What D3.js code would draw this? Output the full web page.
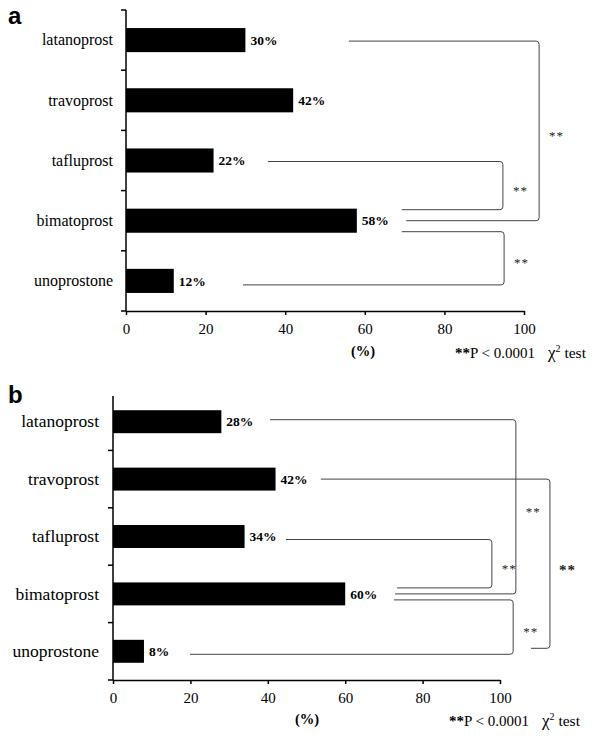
<!DOCTYPE html>
<html>
<head>
<meta charset="utf-8">
<script src="https://cdn.jsdelivr.net/npm/d3@7"></script>
<style>
  body { margin: 0; background: #fff; }
  text { font-family: "Liberation Serif", "Times New Roman", serif; fill: #000; }
</style>
</head>
<body>
<svg id="chart" width="595" height="736"></svg>
<script>
// categories and values (percent)
var drugs = ["latanoprost", "travoprost", "tafluprost", "bimatoprost", "unoprostone"];
var percentA = [30, 42, 22, 58, 12];
var percentB = [28, 42, 34, 60, 8];
var xTicks = [0, 20, 40, 60, 80, 100];
var pairsA = [["latanoprost", "bimatoprost"], ["tafluprost", "bimatoprost"], ["bimatoprost", "unoprostone"]];
var pairsB = [["latanoprost", "bimatoprost"], ["travoprost", "unoprostone"], ["tafluprost", "bimatoprost"], ["bimatoprost", "unoprostone"]];
var sigLabel = "**";

var svg = d3.select("#chart");

// bracket layout: x values in % units, y offsets in px from the band centres
var layoutA = [
    { x1: 56, x2: 70.4, xv: 103.8, dy1: 1, dy2: 0, big: false },
    { x1: 35.7, x2: 69.3, xv: 94.7, dy1: 1, dy2: -11, big: false },
    { x1: 69.3, x2: 29.4, xv: 95, dy1: 11, dy2: 4, big: false }
];
var layoutB = [
    { x1: 40.6, x2: 72.9, xv: 104.1, dy1: -2, dy2: 0, big: false },
    { x1: 53.7, x2: 108, xv: 112.9, dy1: 0, dy2: -3, big: true },
    { x1: 44.7, x2: 73.4, xv: 97.9, dy1: 3, dy2: -6, big: false },
    { x1: 72.6, x2: 19.9, xv: 103.4, dy1: 6, dy2: 3, big: false }
];

function draw_panel(opt) {
    var x = d3.scaleLinear().domain([0, 100]).range([opt.left, opt.right]);
    var y = d3.scaleBand().domain(drugs).range([opt.top, opt.bottom]).padding(0);
    var g = svg.append("g");
    var barH = y.bandwidth() * 0.4;

    // panel letter
    g.append("text")
        .attr("x", 8).attr("y", opt.letterY)
        .style("font-family", "'Liberation Sans', Arial, sans-serif")
        .style("font-weight", "bold")
        .style("font-size", "24px")
        .text(opt.letter);

    // bars
    g.selectAll("rect.bar")
        .data(opt.values)
        .enter().append("rect")
        .attr("class", "bar")
        .attr("x", x(0))
        .attr("y", function (d, i) { return y(drugs[i]) + y.bandwidth() / 2 - barH / 2; })
        .attr("width", function (d) { return x(d) - x(0); })
        .attr("height", barH)
        .attr("fill", "#000");

    // value labels
    g.selectAll("text.val")
        .data(opt.values)
        .enter().append("text")
        .attr("class", "val")
        .attr("x", function (d) { return x(d) + 5; })
        .attr("y", function (d, i) { return y(drugs[i]) + y.bandwidth() / 2; })
        .attr("dy", "0.35em")
        .style("font-size", "13.5px")
        .style("font-weight", "bold")
        .text(function (d) { return d + "%"; });

    // category labels
    g.selectAll("text.cat")
        .data(drugs)
        .enter().append("text")
        .attr("class", "cat")
        .attr("x", opt.labelX)
        .attr("y", function (d) { return y(d) + y.bandwidth() / 2; })
        .attr("dy", "0.33em")
        .attr("text-anchor", "end")
        .style("font-size", opt.catSize)
        .text(function (d) { return d; });

    // y axis with ticks on band edges
    g.append("line")
        .attr("x1", x(0)).attr("x2", x(0))
        .attr("y1", opt.axisTop).attr("y2", opt.bottom)
        .attr("stroke", "#000").attr("stroke-width", 1.5);
    var edges = drugs.map(function (d) { return y(d) + y.bandwidth(); });
    if (opt.topTick) edges.unshift(opt.top);
    g.selectAll("line.ytick")
        .data(edges)
        .enter().append("line")
        .attr("class", "ytick")
        .attr("x1", x(0) - 5).attr("x2", x(0))
        .attr("y1", function (d) { return d; }).attr("y2", function (d) { return d; })
        .attr("stroke", "#000").attr("stroke-width", 1.5);

    // x axis
    var ax = g.append("g")
        .attr("transform", "translate(0," + opt.bottom + ")")
        .call(d3.axisBottom(x).tickValues(xTicks).tickSize(4).tickPadding(8).tickSizeOuter(0));
    ax.select(".domain").attr("stroke", "#000").attr("stroke-width", 1.5);
    ax.selectAll(".tick line").attr("stroke", "#000").attr("stroke-width", 1.5);
    ax.selectAll(".tick text")
        .style("font-family", "'Liberation Serif', 'Times New Roman', serif")
        .style("font-size", "15px")
        .attr("fill", "#000");

    g.append("text")
        .attr("x", opt.unitX).attr("y", opt.noteY - 2)
        .attr("text-anchor", "middle")
        .style("font-size", "14.5px")
        .style("font-weight", "bold")
        .text("(%)");

    var note = g.append("text")
        .attr("x", opt.noteX).attr("y", opt.noteY)
        .style("font-size", "15px");
    note.append("tspan").style("font-weight", "bold").text("**");
    note.append("tspan").text("P < 0.0001");
    var chi = g.append("text")
        .attr("x", opt.noteX + 93).attr("y", opt.noteY)
        .style("font-size", "15.5px");
    chi.append("tspan").style("font-size", "17px").text("χ");
    chi.append("tspan").attr("dy", -6).style("font-size", "10px").text("2");
    chi.append("tspan").attr("dy", 6).text(" test");

    // significance brackets
    var cy = function (name) { return y(name) + y.bandwidth() / 2; };
    opt.pairs.forEach(function (p, i) {
        var L = opt.layout[i];
        var ya = cy(p[0]) + L.dy1, yb = cy(p[1]) + L.dy2, xv = x(L.xv), r = 3;
        var path = d3.path();
        path.moveTo(x(L.x1), ya);
        path.lineTo(xv - r, ya);
        path.quadraticCurveTo(xv, ya, xv, ya + r);
        path.lineTo(xv, yb - r);
        path.quadraticCurveTo(xv, yb, xv - r, yb);
        path.lineTo(x(L.x2), yb);
        g.append("path")
            .attr("d", path.toString())
            .attr("fill", "none")
            .attr("stroke", "#444")
            .attr("stroke-width", 1);
        g.append("text")
            .attr("x", xv + (L.big ? 9 : 10))
            .attr("y", (ya + yb) / 2)
            .attr("dy", L.big ? "0.75em" : "0.7em")
            .style("font-size", L.big ? "15px" : "13px")
            .style("font-weight", L.big ? "bold" : "normal")
            .style("letter-spacing", "1px")
            .style("fill", "#222")
            .text(sigLabel);
    });
}

draw_panel({
    letter: "a", letterY: 24, values: percentA, pairs: pairsA, layout: layoutA,
    left: 126, right: 524, top: 10, axisTop: 10, bottom: 311, topTick: true,
    labelX: 113, catSize: "16px",
    unitX: 363, noteX: 455, noteY: 358
});

draw_panel({
    letter: "b", letterY: 403, values: percentB, pairs: pairsB, layout: layoutB,
    left: 113, right: 500, top: 393, axisTop: 396, bottom: 680, topTick: false,
    labelX: 99, catSize: "17.5px",
    unitX: 307, noteX: 449, noteY: 726
});
</script>
</body>
</html>
